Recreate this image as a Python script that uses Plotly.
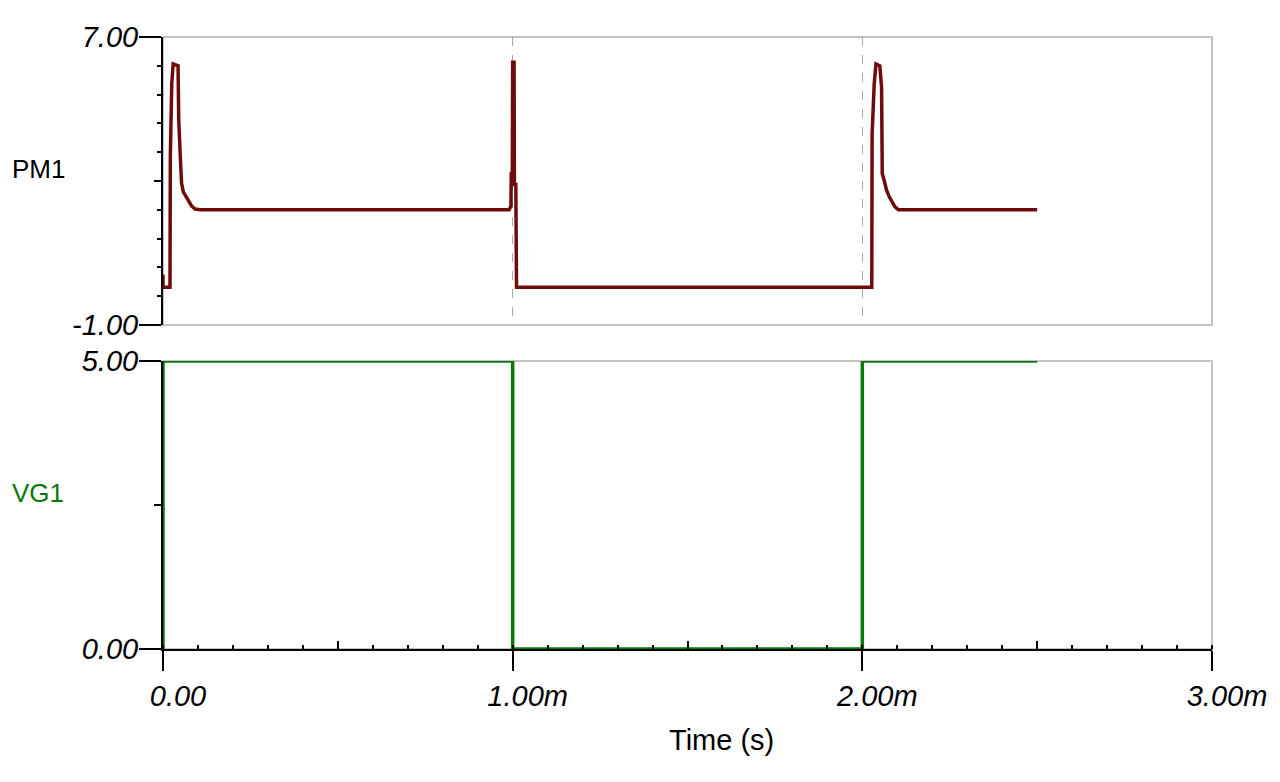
import plotly.graph_objects as go

# time axis in ms
pm1_t = [0.0, 0.0, 0.020, 0.021, 0.025, 0.029, 0.043, 0.045, 0.049, 0.053, 0.058, 0.067, 0.074, 0.082, 0.092, 0.106,
         0.990, 0.995, 0.996, 0.999, 1.000, 1.004, 1.005, 1.009, 1.011,
         2.027, 2.028, 2.034, 2.039, 2.050, 2.055, 2.057, 2.063, 2.069, 2.077, 2.084, 2.093, 2.103, 2.500]
pm1_v = [0.40, 0.05, 0.05, 3.70, 5.70, 6.25, 6.20, 4.70, 3.80, 2.95, 2.70, 2.55, 2.40, 2.30, 2.22, 2.20,
         2.20, 2.30, 3.20, 3.20, 6.30, 6.30, 2.90, 2.90, 0.05,
         0.05, 4.30, 5.70, 6.25, 6.20, 5.60, 3.20, 3.00, 2.75, 2.56, 2.42, 2.29, 2.20, 2.20]

vg1_t = [0.0, 0.0, 1.0, 1.0, 2.0, 2.0, 2.5]
vg1_v = [0.0, 5.0, 5.0, 0.0, 0.0, 5.0, 5.0]

x_ticks = [0, 1, 2, 3]
x_ticktext = ["0.00", "1.00m", "2.00m", "3.00m"]
pm1_ticks = [-1, 7]
pm1_ticktext = ["-1.00", "7.00"]
vg1_ticks = [0, 5]
vg1_ticktext = ["0.00", "5.00"]

RED = "#6e0b0b"
GREEN = "#0a780a"
FRAME = "#c4c4c4"
tick_font = dict(family="Liberation Sans", size=29, color="black", style="italic")

fig = go.Figure()
fig.add_trace(go.Scatter(x=pm1_t, y=pm1_v, mode="lines", line=dict(color=RED, width=3.5),
                         xaxis="x", yaxis="y", showlegend=False))
fig.add_trace(go.Scatter(x=vg1_t, y=vg1_v, mode="lines", line=dict(color=GREEN, width=3.5),
                         xaxis="x2", yaxis="y2", showlegend=False))
# empty traces so the helper axes (extra tick marks) get drawn
fig.add_trace(go.Scatter(x=[], y=[], xaxis="x", yaxis="y3", showlegend=False))
fig.add_trace(go.Scatter(x=[], y=[], xaxis="x2", yaxis="y4", showlegend=False))
fig.add_trace(go.Scatter(x=[], y=[], xaxis="x3", yaxis="y2", showlegend=False))

top_dom = [1 - 288 / 612, 1]
bot_dom = [0, 288 / 612]

fig.update_layout(
    width=1264, height=766,
    margin=dict(l=155, r=60, t=29, b=125, autoexpand=False),
    plot_bgcolor="white", paper_bgcolor="white",
    font=dict(family="Liberation Sans", color="black"),
    xaxis=dict(domain=[0, 1], anchor="y", range=[0, 3], showline=False, zeroline=False,
               showticklabels=False, ticks="", tickvals=[1, 2], showgrid=True, automargin=False,
               gridcolor="#a8a8a8", gridwidth=1, griddash="dash"),
    yaxis=dict(domain=top_dom, anchor="x", range=[-1, 7], showline=True, linecolor="black", linewidth=2,
               zeroline=False, showgrid=False, tickvals=pm1_ticks, ticktext=pm1_ticktext, automargin=False,
               ticks="outside", ticklen=22, tickwidth=2, tickcolor="black", tickfont=tick_font,
               ticklabelstandoff=-5,
               minor=dict(tick0=-1, dtick=0.8, ticks="outside", ticklen=4, tickwidth=1.5,
                          tickcolor="black", showgrid=False)),
    yaxis3=dict(overlaying="y", anchor="x", side="left", range=[-1, 7], showline=False, zeroline=False,
                showgrid=False, tickvals=[3], ticks="outside", ticklen=8, tickwidth=2, automargin=False,
                tickcolor="black", showticklabels=False),
    xaxis2=dict(domain=[0, 1], anchor="y2", range=[0, 3], showline=True, linecolor="black", linewidth=2,
                zeroline=False, showgrid=False, tickvals=x_ticks, ticktext=x_ticktext, automargin=False,
                ticks="outside", ticklen=20, tickwidth=2, tickcolor="black", tickfont=tick_font,
                ticklabelshift=15,
                minor=dict(dtick=0.1, ticks="inside", ticklen=4, tickwidth=1.5,
                           tickcolor="black", showgrid=False)),
    xaxis3=dict(overlaying="x2", anchor="y2", side="bottom", range=[0, 3], showline=False,
                zeroline=False, showgrid=False, tickvals=[0.5, 1.5, 2.5], ticks="inside", automargin=False,
                ticklen=8, tickwidth=2, tickcolor="black", showticklabels=False),
    yaxis2=dict(domain=bot_dom, anchor="x2", range=[0, 5], showline=True, linecolor="black", linewidth=2,
                zeroline=False, showgrid=False, tickvals=vg1_ticks, ticktext=vg1_ticktext, automargin=False,
                ticks="outside", ticklen=22, tickwidth=2, tickcolor="black", tickfont=tick_font,
                ticklabelstandoff=-5),
    yaxis4=dict(overlaying="y2", anchor="x2", side="left", range=[0, 5], showline=False, zeroline=False,
                showgrid=False, tickvals=[2.5], ticks="outside", ticklen=8, tickwidth=2, automargin=False,
                tickcolor="black", showticklabels=False),
)

# grey frames around both panels
for xr, yr in [("x domain", "y domain"), ("x2 domain", "y2 domain")]:
    fig.add_shape(type="rect", xref=xr, yref=yr, x0=0, x1=1, y0=0, y1=1,
                  line=dict(color=FRAME, width=2), layer="below")

fig.add_annotation(text="PM1", xref="paper", yref="y domain", x=-0.119, y=0.54,
                   xanchor="center", yanchor="middle",
                   showarrow=False, font=dict(size=26, color="black"))
fig.add_annotation(text="VG1", xref="paper", yref="y2 domain", x=-0.119, y=0.54,
                   xanchor="center", yanchor="middle",
                   showarrow=False, font=dict(size=26, color=GREEN))
fig.add_annotation(text="Time (s)", xref="paper", yref="paper", x=0.532, y=-0.149,
                   xanchor="center", yanchor="middle",
                   showarrow=False, font=dict(size=29, color="black"))

fig.write_html("out.html")
